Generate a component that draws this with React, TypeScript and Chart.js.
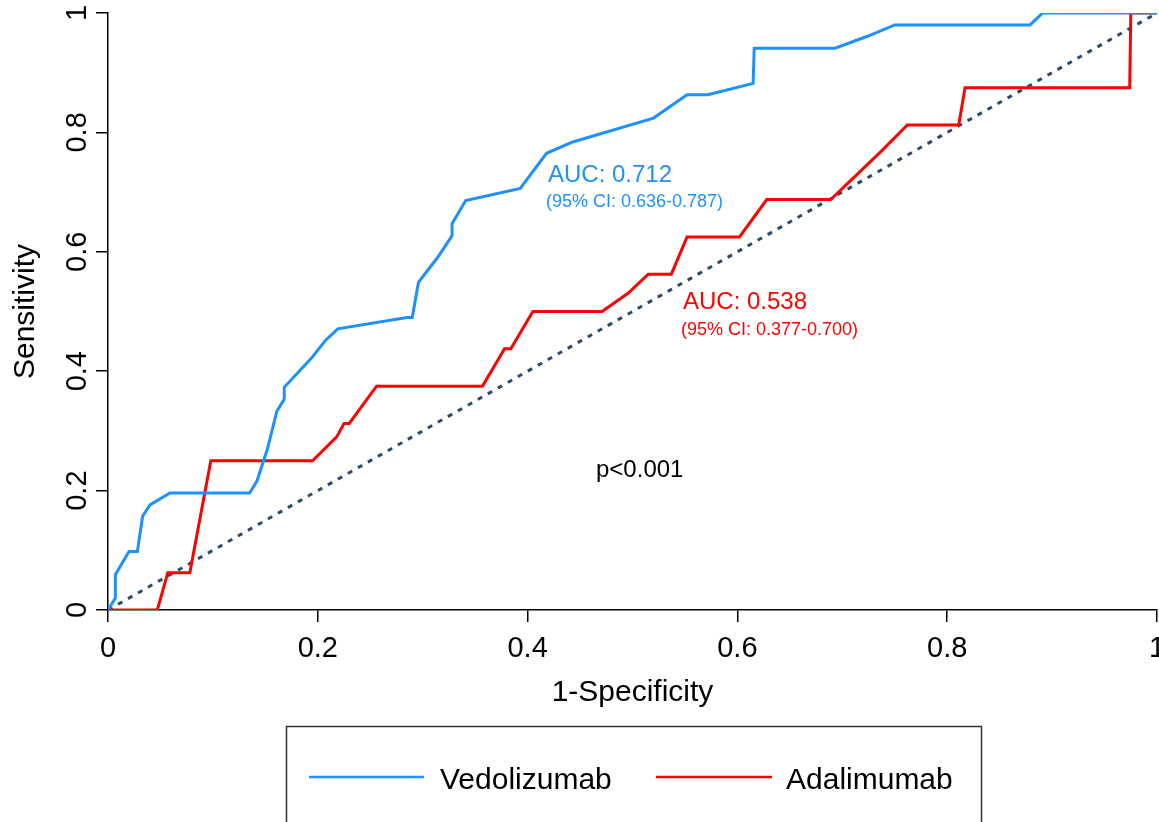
import React, { useEffect, useRef } from "react";
import { Chart, registerables } from "chart.js";

Chart.register(...registerables);

// ROC data: 1-Specificity (x) vs Sensitivity (y)
const vedoFpr = [0, 0.007, 0.007, 0.02, 0.028, 0.033, 0.04, 0.059, 0.135, 0.142, 0.152, 0.161, 0.168, 0.168, 0.194, 0.207, 0.219, 0.285, 0.29, 0.296, 0.314, 0.328, 0.328, 0.341, 0.393, 0.418, 0.443, 0.52, 0.552, 0.564, 0.572, 0.615, 0.616, 0.693, 0.724, 0.75, 0.879, 0.891, 1];
const vedoTpr = [0, 0.02, 0.059, 0.098, 0.098, 0.157, 0.176, 0.196, 0.196, 0.216, 0.27, 0.333, 0.353, 0.373, 0.422, 0.451, 0.471, 0.49, 0.49, 0.549, 0.59, 0.627, 0.647, 0.686, 0.706, 0.765, 0.784, 0.824, 0.863, 0.863, 0.863, 0.882, 0.941, 0.941, 0.961, 0.98, 0.98, 1, 1];

const adaFpr = [0, 0.047, 0.057, 0.078, 0.098, 0.195, 0.218, 0.225, 0.23, 0.256, 0.357, 0.378, 0.384, 0.405, 0.471, 0.496, 0.515, 0.537, 0.552, 0.602, 0.628, 0.689, 0.738, 0.762, 0.811, 0.817, 0.974, 0.975, 1];
const adaTpr = [0, 0, 0.0625, 0.0625, 0.25, 0.25, 0.29, 0.3125, 0.3125, 0.375, 0.375, 0.4375, 0.4375, 0.5, 0.5, 0.531, 0.5625, 0.5625, 0.625, 0.625, 0.6875, 0.6875, 0.77, 0.8125, 0.8125, 0.875, 0.875, 1, 1];

const refX = [0, 1];
const refY = [0, 1];

const tickValues = [0, 0.2, 0.4, 0.6, 0.8, 1];
const tickLabels = ["0", "0.2", "0.4", "0.6", "0.8", "1"];

const seriesNames = ["Vedolizumab", "Adalimumab"];
const seriesColors = ["#1E90FF", "#FF0000"];
const aucTexts = ["AUC: 0.712", "AUC: 0.538"];
const ciTexts = ["(95% CI: 0.636-0.787)", "(95% CI: 0.377-0.700)"];
const pText = "p<0.001";
const xTitle = "1-Specificity";
const yTitle = "Sensitivity";

const FONT = '"Liberation Sans", Arial, sans-serif';

const toPts = (xs: number[], ys: number[]) => xs.map((x, i) => ({ x, y: ys[i] }));

const overlayPlugin = {
  id: "overlay",
  afterDraw(chart: any) {
    const ctx = chart.ctx as CanvasRenderingContext2D;
    const xs = chart.scales.x;
    const ys = chart.scales.y;
    ctx.save();
    ctx.fillStyle = "#000";
    // x tick labels
    ctx.font = `29px ${FONT}`;
    ctx.textAlign = "center";
    ctx.textBaseline = "alphabetic";
    tickValues.forEach((v, i) => {
      ctx.fillText(tickLabels[i], xs.getPixelForValue(v), 657);
    });
    // y tick labels (rotated)
    tickValues.forEach((v, i) => {
      ctx.save();
      ctx.translate(86, ys.getPixelForValue(v));
      ctx.rotate(-Math.PI / 2);
      ctx.fillText(tickLabels[i], 0, 0);
      ctx.restore();
    });
    // axis titles
    ctx.font = `30px ${FONT}`;
    ctx.fillText(xTitle, (chart.chartArea.left + chart.chartArea.right) / 2, 701);
    ctx.save();
    ctx.translate(34, (chart.chartArea.top + chart.chartArea.bottom) / 2);
    ctx.rotate(-Math.PI / 2);
    ctx.fillText(yTitle, 0, 0);
    ctx.restore();

    // annotations
    ctx.textAlign = "left";
    ctx.fillStyle = seriesColors[0];
    ctx.font = `24px ${FONT}`;
    ctx.fillText(aucTexts[0], 548, 182);
    ctx.font = `18px ${FONT}`;
    ctx.fillText(ciTexts[0], 546, 207);
    ctx.fillStyle = seriesColors[1];
    ctx.font = `24px ${FONT}`;
    ctx.fillText(aucTexts[1], 683, 309);
    ctx.font = `18px ${FONT}`;
    ctx.fillText(ciTexts[1], 681, 335);
    ctx.fillStyle = "#000";
    ctx.font = `24px ${FONT}`;
    ctx.fillText(pText, 596, 477);

    // legend
    ctx.strokeStyle = "#333";
    ctx.lineWidth = 1.5;
    ctx.strokeRect(286.5, 726.5, 695, 120);
    const legendItems = [
      { x0: 309, x1: 424, tx: 440 },
      { x0: 656, x1: 772, tx: 786 },
    ];
    legendItems.forEach((it, i) => {
      ctx.strokeStyle = seriesColors[i];
      ctx.lineWidth = 2.5;
      ctx.beginPath();
      ctx.moveTo(it.x0, 777);
      ctx.lineTo(it.x1, 777);
      ctx.stroke();
      ctx.fillStyle = "#000";
      ctx.font = `30px ${FONT}`;
      ctx.fillText(seriesNames[i], it.tx, 789);
    });
    ctx.restore();
  },
};

export default function App() {
  const ref = useRef<HTMLCanvasElement | null>(null);
  useEffect(() => {
    if (!ref.current) return;
    const axisCommon = {
      type: "linear" as const,
      min: 0,
      max: 1,
      ticks: { display: false },
      afterBuildTicks: (s: any) => {
        s.ticks = tickValues.map((v) => ({ value: v }));
      },
      grid: {
        drawOnChartArea: false,
        drawTicks: true,
        tickLength: 12,
        color: "#000",
        lineWidth: 1.5,
      },
      border: { display: true, color: "#000", width: 1.5 },
    };
    const chart = new Chart(ref.current, {
      type: "line",
      data: {
        datasets: [
          {
            label: seriesNames[0],
            data: toPts(vedoFpr, vedoTpr),
            borderColor: seriesColors[0],
            borderWidth: 3,
            pointRadius: 0,
            tension: 0,
            fill: false,
          },
          {
            label: seriesNames[1],
            data: toPts(adaFpr, adaTpr),
            borderColor: seriesColors[1],
            borderWidth: 3,
            pointRadius: 0,
            tension: 0,
            fill: false,
          },
          {
            label: "reference",
            data: toPts(refX, refY),
            borderColor: "#2C4A6B",
            borderWidth: 3,
            borderDash: [5, 6.5],
            pointRadius: 0,
            fill: false,
          },
        ],
      },
      options: {
        responsive: false,
        animation: false,
        events: [],
        layout: { padding: { top: 13, right: 2, left: 0, bottom: 0 } },
        plugins: { legend: { display: false }, tooltip: { enabled: false } },
        scales: {
          x: {
            ...axisCommon,
            position: "bottom",
            afterFit: (s: any) => {
              s.height = 212;
              s.paddingLeft = 0;
              s.paddingRight = 0;
            },
          },
          y: {
            ...axisCommon,
            position: "left",
            afterFit: (s: any) => {
              s.width = 108;
              s.paddingTop = 0;
              s.paddingBottom = 0;
            },
          },
        },
      },
      plugins: [overlayPlugin],
    } as any);
    return () => chart.destroy();
  }, []);
  return (
    <div style={{ position: "absolute", left: 0, top: 0, width: 1159, height: 822, background: "#fff" }}>
      <canvas ref={ref} width={1159} height={822} style={{ display: "block" }} />
    </div>
  );
}
